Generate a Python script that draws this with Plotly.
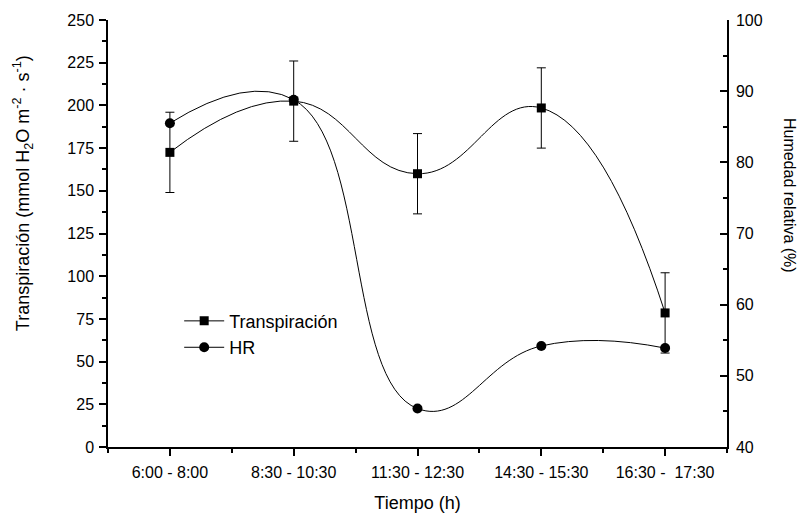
import plotly.graph_objects as go

# Time windows of measurement
periodos = ["6:00 - 8:00", "8:30 - 10:30", "11:30 - 12:30", "14:30 - 15:30", "16:30 -  17:30"]
posiciones = [0, 1, 2, 3, 4]

# Leaf transpiration (mmol H2O m-2 s-1) with standard error
transpiracion = [172.5, 202.5, 160, 198.5, 78.5]
transp_error = [23.5, 23.5, 23.5, 23.5, 23.5]

# Relative humidity (%)
humedad = [85.5, 88.8, 45.4, 54.2, 53.9]

FONT = "Liberation Sans, Arial, sans-serif"
TICK_FONT = dict(family=FONT, size=16, color="black")

fig = go.Figure()

fig.add_trace(go.Scatter(
    x=posiciones, y=transpiracion, name="Transpiración",
    mode="lines+markers",
    line=dict(color="black", width=1, shape="spline", smoothing=1.3),
    marker=dict(symbol="square", size=9, color="black"),
    error_y=dict(type="data", array=transp_error, visible=True,
                 color="black", thickness=1, width=4.5),
))

fig.add_trace(go.Scatter(
    x=posiciones, y=humedad, name="HR", yaxis="y2",
    mode="lines+markers",
    line=dict(color="black", width=1, shape="spline", smoothing=1.3),
    marker=dict(symbol="circle", size=10, color="black"),
))

axis_common = dict(
    showline=True, linecolor="black", linewidth=1.5,
    ticklen=7, tickwidth=1.5, tickcolor="black",
    showgrid=False, zeroline=False, tickfont=TICK_FONT, automargin=False,
)

fig.update_layout(
    width=801, height=513,
    margin=dict(l=108, r=74, t=20, b=66),
    paper_bgcolor="white", plot_bgcolor="white",
    font=dict(family=FONT, size=16, color="black"),
    showlegend=True,
    legend=dict(x=0.115, y=0.338, xanchor="left", yanchor="top",
                bgcolor="rgba(0,0,0,0)", font=dict(family=FONT, size=18),
                itemwidth=40, tracegroupgap=0),
    xaxis=dict(
        **axis_common, ticks="outside", ticklabelstandoff=3,
        range=[-0.5, 4.5],
        tickmode="array", tickvals=posiciones, ticktext=periodos,
        minor=dict(tickmode="linear", tick0=0.5, dtick=1, ticks="outside",
                   ticklen=4, tickwidth=1.5, tickcolor="black"),
        title=dict(text="Tiempo (h)", font=dict(family=FONT, size=18), standoff=18),
    ),
    yaxis=dict(
        **axis_common, ticks="outside", ticklabelstandoff=2,
        range=[0, 250], tickmode="linear", tick0=0, dtick=25,
        minor=dict(tickmode="linear", tick0=12.5, dtick=25, ticks="outside",
                   ticklen=4, tickwidth=1.5, tickcolor="black"),
    ),
    yaxis2=dict(
        **axis_common, ticks="inside", ticklabelstandoff=4,
        overlaying="y", side="right", anchor="x",
        range=[40, 100], tickmode="linear", tick0=40, dtick=10,
        minor=dict(tickmode="linear", tick0=45, dtick=10, ticks="inside",
                   ticklen=4, tickwidth=1.5, tickcolor="black"),
    ),
    annotations=[
        dict(
            text="Transpiración (mmol H<sub>2</sub>O m<sup>-2</sup> · s<sup>-1</sup>)",
            textangle=-90, xref="paper", yref="paper", x=-0.137, y=0.595,
            xanchor="center", yanchor="middle", showarrow=False,
            font=dict(family=FONT, size=18, color="black"),
        ),
        dict(
            text="Humedad relativa (%)", textangle=90,
            xref="paper", yref="paper", x=1.102, y=0.59,
            xanchor="center", yanchor="middle", showarrow=False,
            font=dict(family=FONT, size=16, color="black"),
        ),
    ],
)

fig.write_html("out.html")
